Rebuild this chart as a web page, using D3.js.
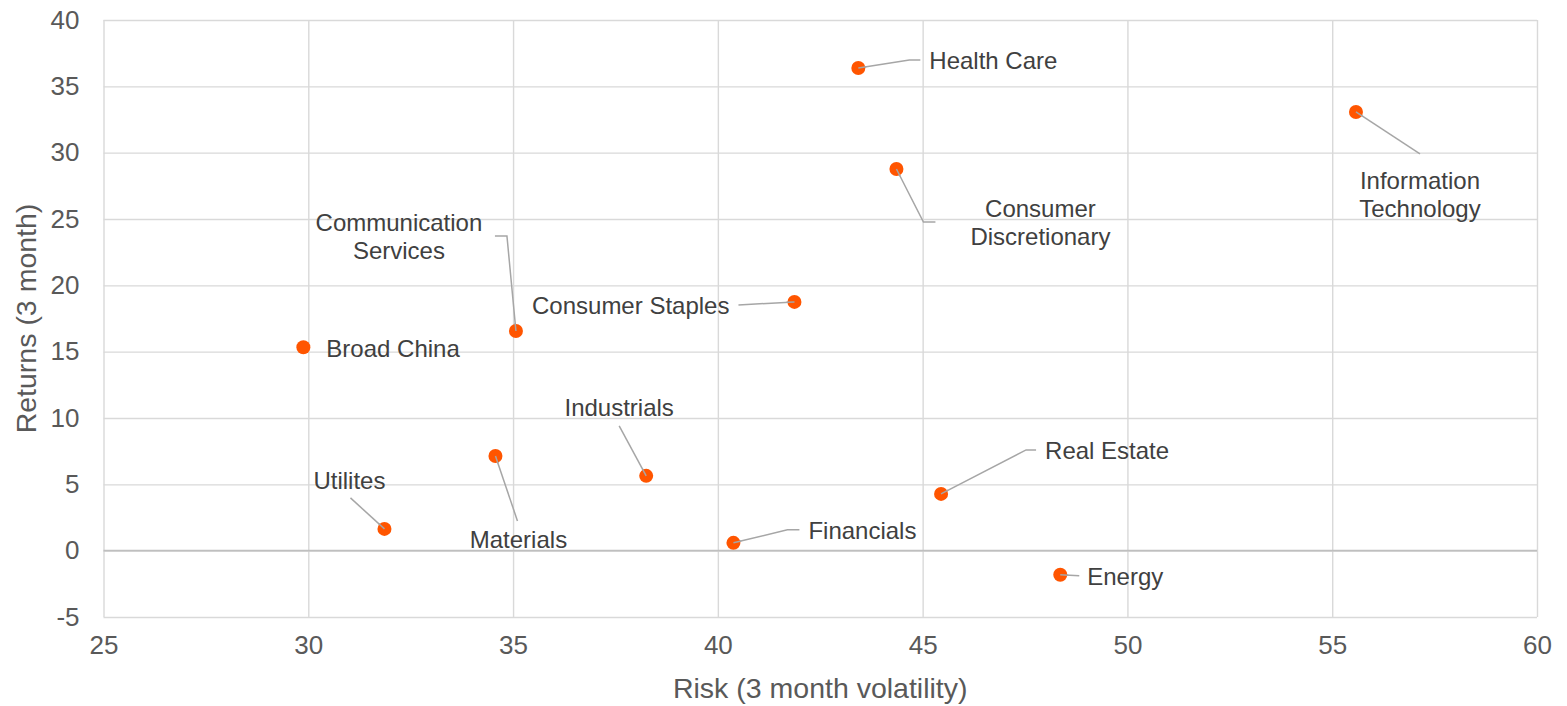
<!DOCTYPE html>
<html>
<head>
<meta charset="utf-8">
<script src="https://cdn.jsdelivr.net/npm/d3@7"></script>
<style>
  body { margin: 0; background: #fff; }
  svg { display: block; font-family: "Liberation Sans", Arial, sans-serif; }
</style>
</head>
<body>
<svg></svg>
<script>
// sectors and their 3 month risk / return
let sectors = ["Broad China", "Communication Services", "Consumer Discretionary", "Consumer Staples",
               "Energy", "Financials", "Health Care", "Industrials",
               "Information Technology", "Materials", "Real Estate", "Utilites"];
let risk    = [29.88, 35.07, 44.36, 41.87, 48.36, 40.38, 43.43, 38.25, 55.58, 34.57, 45.45, 31.86];
let returns = [15.33, 16.56, 28.77, 18.75, -1.82, 0.59, 36.38, 5.64, 33.07, 7.14, 4.28, 1.64];

let xTicks = [25, 30, 35, 40, 45, 50, 55, 60];
let yTicks = [-5, 0, 5, 10, 15, 20, 25, 30, 35, 40];

// label placement, pixel offsets from each dot (same order as sectors)
let labelLayout = [
    { anchor: "start",  lines: ["Broad China"],                 dx: 23,   dy: 1,   leader: [] },
    { anchor: "middle", lines: ["Communication", "Services"],   dx: -117, dy: -108, leader: [[-9, -95], [-21, -95]] },
    { anchor: "middle", lines: ["Consumer", "Discretionary"],   dx: 144,  dy: 40,  leader: [[27, 53], [39, 53]] },
    { anchor: "end",    lines: ["Consumer Staples"],            dx: -65,  dy: 4,   leader: [[-56, 3]] },
    { anchor: "start",  lines: ["Energy"],                      dx: 27,   dy: 2,   leader: [[19, 1]] },
    { anchor: "start",  lines: ["Financials"],                  dx: 75,   dy: -12, leader: [[54, -13], [66, -13]] },
    { anchor: "start",  lines: ["Health Care"],                 dx: 71,   dy: -7,  leader: [[51, -8], [62, -8]] },
    { anchor: "middle", lines: ["Industrials"],                 dx: -27,  dy: -68, leader: [[-27, -50]] },
    { anchor: "middle", lines: ["Information", "Technology"],   dx: 64,   dy: 69,  leader: [[64, 42]] },
    { anchor: "middle", lines: ["Materials"],                   dx: 23,   dy: 84,  leader: [[22, 65]] },
    { anchor: "start",  lines: ["Real Estate"],                 dx: 104,  dy: -43, leader: [[85, -44], [95, -44]] },
    { anchor: "middle", lines: ["Utilites"],                    dx: -35,  dy: -48, leader: [[-34, -31]] }
];

let width = 1567;
let height = 706;
let margin = { top: 20, right: 30, bottom: 89, left: 103.5 };

let svg = d3.select("svg")
    .attr("width", width)
    .attr("height", height);

let xScale = d3.scaleLinear()
    .domain([25, 60])
    .range([margin.left, width - margin.right]);

let yScale = d3.scaleLinear()
    .domain([-5, 40])
    .range([height - margin.bottom, margin.top]);

let drawGrid = () => {
    let xAxis = d3.axisBottom(xScale)
        .tickValues(xTicks)
        .tickFormat(d => String(d))
        .tickSize(-(height - margin.top - margin.bottom))
        .tickSizeOuter(0)
        .tickPadding(19);

    let yAxis = d3.axisLeft(yScale)
        .tickValues(yTicks)
        .tickFormat(d => String(d))
        .tickSize(-(width - margin.left - margin.right))
        .tickSizeOuter(0)
        .tickPadding(24);

    let gx = svg.append("g")
        .attr("transform", "translate(0," + (height - margin.bottom) + ")")
        .call(xAxis);

    let gy = svg.append("g")
        .attr("transform", "translate(" + margin.left + ",0)")
        .call(yAxis);

    [gx, gy].forEach(g => {
        g.select(".domain").remove();
        g.selectAll(".tick line")
            .attr("stroke", "#d9d9d9")
            .attr("stroke-width", 1.4);
        g.selectAll(".tick text")
            .attr("fill", "#595959")
            .style("font-size", "26px");
    });

    // zero line is a bit darker
    svg.append("line")
        .attr("x1", xScale(25))
        .attr("x2", xScale(60))
        .attr("y1", yScale(0))
        .attr("y2", yScale(0))
        .attr("stroke", "#bfbfbf")
        .attr("stroke-width", 1.6);

    svg.append("text")
        .attr("x", (xScale(25) + xScale(60)) / 2)
        .attr("y", 698)
        .attr("text-anchor", "middle")
        .attr("fill", "#595959")
        .style("font-size", "28.5px")
        .text("Risk (3 month volatility)");

    svg.append("text")
        .attr("transform", "translate(36," + (yScale(-5) + yScale(40)) / 2 + ") rotate(-90)")
        .attr("text-anchor", "middle")
        .attr("fill", "#595959")
        .style("font-size", "28.5px")
        .text("Returns (3 month)");
}

let drawPoints = () => {
    let idx = d3.range(sectors.length);

    let g = svg.append("g");

    // leader lines
    g.selectAll("path.leader")
        .data(idx.filter(i => labelLayout[i].leader.length > 0))
        .enter()
        .append("path")
        .attr("class", "leader")
        .attr("fill", "none")
        .attr("stroke", "#a6a6a6")
        .attr("stroke-width", 1.5)
        .attr("d", i => {
            let cx = xScale(risk[i]);
            let cy = yScale(returns[i]);
            let pts = [[cx, cy]].concat(labelLayout[i].leader.map(p => [cx + p[0], cy + p[1]]));
            return d3.line()(pts);
        });

    g.selectAll("circle")
        .data(idx)
        .enter()
        .append("circle")
        .attr("cx", i => xScale(risk[i]))
        .attr("cy", i => yScale(returns[i]))
        .attr("r", 7)
        .attr("fill", "#ff5500");

    // grey tip of the leader drawn over the dot, like the original
    g.selectAll("path.tip")
        .data(idx.filter(i => labelLayout[i].leader.length > 0))
        .enter()
        .append("path")
        .attr("fill", "none")
        .attr("stroke", "#a6a6a6")
        .attr("stroke-width", 1.5)
        .attr("d", i => {
            let cx = xScale(risk[i]);
            let cy = yScale(returns[i]);
            let p = labelLayout[i].leader[0];
            let len = Math.hypot(p[0], p[1]);
            return d3.line()([[cx, cy], [cx + p[0] / len * 8, cy + p[1] / len * 8]]);
        });

    let labels = g.selectAll("text.label")
        .data(idx)
        .enter()
        .append("text")
        .attr("class", "label")
        .attr("text-anchor", i => labelLayout[i].anchor)
        .attr("fill", "#404040")
        .style("font-size", "24px");

    labels.each(function(i) {
        let cx = xScale(risk[i]);
        let cy = yScale(returns[i]);
        let lay = labelLayout[i];
        d3.select(this).selectAll("tspan")
            .data(lay.lines)
            .enter()
            .append("tspan")
            .attr("x", cx + lay.dx)
            .attr("y", (d, k) => cy + lay.dy + k * 28)
            .attr("dy", "0.35em")
            .text(d => d);
    });
}

drawGrid()
drawPoints()
</script>
</body>
</html>
